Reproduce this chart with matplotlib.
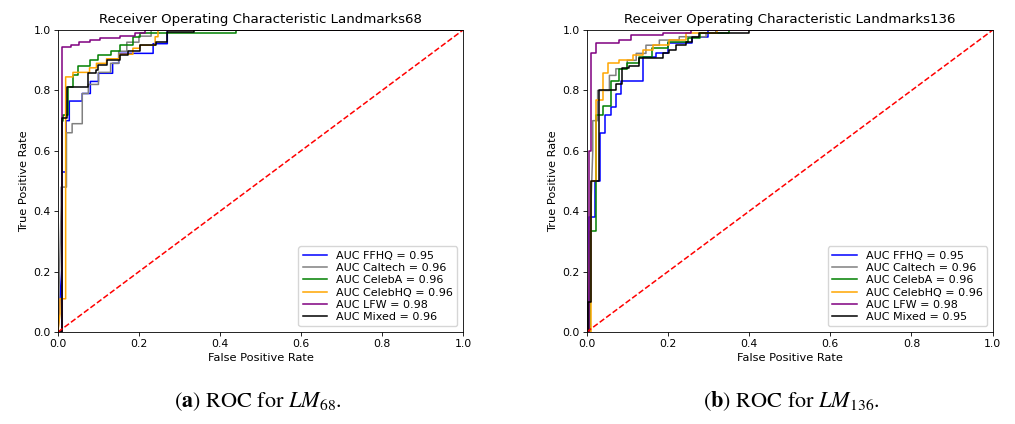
import matplotlib.pyplot as plt

# ROC curves for two landmark models, six datasets each
names  = ['FFHQ', 'Caltech', 'CelebA', 'CelebHQ', 'LFW', 'Mixed']
colors = ['blue', 'gray', 'green', 'orange', 'purple', 'black']
auc68  = [0.95, 0.96, 0.96, 0.96, 0.98, 0.96]
auc136 = [0.95, 0.96, 0.96, 0.96, 0.98, 0.95]

# --- Landmarks68 ---
ffhq68_fpr = [0, 0.01, 0.01, 0.02, 0.02, 0.028, 0.028, 0.06, 0.06, 0.08, 0.08, 0.10, 0.10, 0.135, 0.135, 0.15, 0.15, 0.235, 0.235, 0.27, 0.27, 1.0]
ffhq68_tpr = [0, 0.22, 0.53, 0.53, 0.70, 0.70, 0.765, 0.765, 0.79, 0.79, 0.83, 0.83, 0.857, 0.857, 0.89, 0.89, 0.923, 0.923, 0.955, 0.955, 1.0, 1.0]
caltech68_fpr = [0, 0.008, 0.008, 0.021, 0.021, 0.035, 0.035, 0.06, 0.06, 0.075, 0.075, 0.10, 0.10, 0.13, 0.13, 0.15, 0.15, 0.17, 0.17, 0.20, 0.20, 0.23, 0.23, 1.0]
caltech68_tpr = [0, 0.42, 0.48, 0.48, 0.66, 0.66, 0.69, 0.69, 0.79, 0.79, 0.82, 0.82, 0.86, 0.86, 0.89, 0.89, 0.93, 0.93, 0.96, 0.96, 0.98, 0.98, 1.0, 1.0]
celeba68_fpr = [0, 0.009, 0.009, 0.012, 0.012, 0.025, 0.025, 0.037, 0.037, 0.05, 0.05, 0.078, 0.078, 0.099, 0.099, 0.132, 0.132, 0.152, 0.152, 0.185, 0.185, 0.202, 0.202, 0.44, 0.44, 1.0]
celeba68_tpr = [0, 0.0, 0.70, 0.70, 0.72, 0.72, 0.81, 0.81, 0.85, 0.85, 0.88, 0.88, 0.90, 0.90, 0.918, 0.918, 0.93, 0.93, 0.95, 0.95, 0.978, 0.978, 0.99, 0.99, 1.0, 1.0]
celebhq68_fpr = [0, 0.005, 0.005, 0.019, 0.019, 0.037, 0.037, 0.078, 0.078, 0.095, 0.095, 0.12, 0.12, 0.152, 0.152, 0.185, 0.185, 0.202, 0.202, 0.24, 0.24, 0.247, 0.247, 1.0]
celebhq68_tpr = [0, 0.06, 0.11, 0.11, 0.845, 0.845, 0.86, 0.86, 0.875, 0.875, 0.89, 0.89, 0.905, 0.905, 0.92, 0.92, 0.94, 0.94, 0.95, 0.95, 0.978, 0.978, 1.0, 1.0]
lfw68_fpr = [0, 0.011, 0.011, 0.033, 0.033, 0.053, 0.053, 0.078, 0.078, 0.103, 0.103, 0.152, 0.152, 0.19, 0.19, 0.214, 0.214, 1.0]
lfw68_tpr = [0, 0.0, 0.943, 0.943, 0.95, 0.95, 0.96, 0.96, 0.967, 0.967, 0.975, 0.975, 0.98, 0.98, 0.99, 0.99, 1.0, 1.0]
mixed68_fpr = [0, 0.009, 0.009, 0.022, 0.022, 0.074, 0.074, 0.095, 0.095, 0.099, 0.099, 0.12, 0.12, 0.152, 0.152, 0.173, 0.173, 0.202, 0.202, 0.243, 0.243, 0.27, 0.27, 0.337, 0.337, 1.0]
mixed68_tpr = [0, 0.0, 0.71, 0.71, 0.813, 0.813, 0.857, 0.857, 0.868, 0.868, 0.885, 0.885, 0.90, 0.90, 0.918, 0.918, 0.93, 0.93, 0.95, 0.95, 0.96, 0.96, 0.995, 0.995, 1.0, 1.0]

# --- Landmarks136 ---
ffhq136_fpr = [0, 0.006, 0.006, 0.02, 0.02, 0.032, 0.032, 0.045, 0.045, 0.06, 0.06, 0.072, 0.072, 0.085, 0.085, 0.138, 0.138, 0.17, 0.17, 0.2, 0.2, 0.26, 0.26, 0.30, 0.30, 1.0]
ffhq136_tpr = [0, 0.0, 0.38, 0.38, 0.5, 0.5, 0.66, 0.66, 0.72, 0.72, 0.745, 0.745, 0.79, 0.79, 0.83, 0.83, 0.91, 0.91, 0.923, 0.923, 0.956, 0.956, 0.978, 0.978, 1.0, 1.0]
caltech136_fpr = [0, 0.015, 0.015, 0.027, 0.027, 0.056, 0.056, 0.072, 0.072, 0.1, 0.1, 0.122, 0.122, 0.146, 0.146, 0.179, 0.179, 0.228, 0.228, 0.294, 0.294, 0.318, 0.318, 1.0]
caltech136_tpr = [0, 0.6, 0.7, 0.7, 0.80, 0.80, 0.85, 0.85, 0.872, 0.872, 0.90, 0.90, 0.923, 0.923, 0.95, 0.95, 0.967, 0.967, 0.978, 0.978, 0.99, 0.99, 1.0, 1.0]
celeba136_fpr = [0, 0.009, 0.009, 0.023, 0.023, 0.04, 0.04, 0.06, 0.06, 0.08, 0.08, 0.1, 0.1, 0.13, 0.13, 0.16, 0.16, 0.2, 0.2, 0.25, 0.25, 0.28, 0.28, 0.35, 0.35, 1.0]
celeba136_tpr = [0, 0.0, 0.335, 0.335, 0.72, 0.72, 0.75, 0.75, 0.83, 0.83, 0.87, 0.87, 0.89, 0.89, 0.91, 0.91, 0.94, 0.94, 0.96, 0.96, 0.975, 0.975, 0.99, 0.99, 1.0, 1.0]
celebhq136_fpr = [0, 0.01, 0.01, 0.023, 0.023, 0.04, 0.04, 0.052, 0.052, 0.08, 0.08, 0.113, 0.113, 0.138, 0.138, 0.163, 0.163, 0.204, 0.204, 0.245, 0.245, 0.322, 0.322, 1.0]
celebhq136_tpr = [0, 0.0, 0.5, 0.5, 0.77, 0.77, 0.857, 0.857, 0.89, 0.89, 0.90, 0.90, 0.918, 0.918, 0.934, 0.934, 0.95, 0.95, 0.967, 0.967, 0.99, 0.99, 1.0, 1.0]
lfw136_fpr = [0, 0.005, 0.005, 0.011, 0.011, 0.023, 0.023, 0.08, 0.08, 0.11, 0.11, 0.187, 0.187, 0.257, 0.257, 1.0]
lfw136_tpr = [0, 0.0, 0.6, 0.6, 0.923, 0.923, 0.956, 0.956, 0.967, 0.967, 0.984, 0.984, 0.99, 0.99, 1.0, 1.0]
mixed136_fpr = [0, 0.003, 0.003, 0.011, 0.011, 0.031, 0.031, 0.072, 0.072, 0.088, 0.088, 0.104, 0.104, 0.129, 0.129, 0.187, 0.187, 0.203, 0.203, 0.22, 0.22, 0.244, 0.244, 0.26, 0.26, 0.277, 0.277, 0.40, 0.40, 1.0]
mixed136_tpr = [0, 0.0, 0.1, 0.1, 0.5, 0.5, 0.80, 0.80, 0.82, 0.82, 0.874, 0.874, 0.88, 0.88, 0.906, 0.906, 0.923, 0.923, 0.934, 0.934, 0.95, 0.95, 0.96, 0.96, 0.978, 0.978, 0.99, 0.99, 1.0, 1.0]

curves68 = [(ffhq68_fpr, ffhq68_tpr), (caltech68_fpr, caltech68_tpr), (celeba68_fpr, celeba68_tpr),
            (celebhq68_fpr, celebhq68_tpr), (lfw68_fpr, lfw68_tpr), (mixed68_fpr, mixed68_tpr)]
curves136 = [(ffhq136_fpr, ffhq136_tpr), (caltech136_fpr, caltech136_tpr), (celeba136_fpr, celeba136_tpr),
             (celebhq136_fpr, celebhq136_tpr), (lfw136_fpr, lfw136_tpr), (mixed136_fpr, mixed136_tpr)]

plt.rcParams['mathtext.fontset'] = 'stix'
fig = plt.figure(figsize=(10.15, 4.24), dpi=100)
ax1 = fig.add_axes([0.0571, 0.217, 0.399, 0.712])
ax2 = fig.add_axes([0.578, 0.217, 0.400, 0.712])


def roc_panel(ax, curves, aucs, title):
    for (fpr, tpr), name, c, a in zip(curves, names, colors, aucs):
        ax.plot(fpr, tpr, color=c, lw=1.1, label=f'AUC {name} = {a:.2f}')
    ax.plot([0, 1], [0, 1], 'r--', lw=1.1)
    ax.set_xlim(0, 1); ax.set_ylim(0, 1)
    ax.set_title(title, fontsize=9.6, pad=5)
    ax.set_xlabel('False Positive Rate', fontsize=8.2, labelpad=3)
    ax.set_ylabel('True Positive Rate', fontsize=8.2, labelpad=3)
    ax.tick_params(labelsize=7.8, length=2.6, width=0.6, pad=2.5)
    for s in ax.spines.values():
        s.set_linewidth(0.6)
    ax.legend(loc='lower right', fontsize=8, labelspacing=0.2, handlelength=2.2)


roc_panel(ax1, curves68, auc68, 'Receiver Operating Characteristic Landmarks68')
roc_panel(ax2, curves136, auc136, 'Receiver Operating Characteristic Landmarks136')

# subfigure captions
fig.text(0.254, 0.04, r'($\mathbf{a}$) ROC for $LM_{68}$.', ha='center', fontsize=16, family='STIXGeneral')
fig.text(0.780, 0.04, r'($\mathbf{b}$) ROC for $LM_{136}$.', ha='center', fontsize=16, family='STIXGeneral')

fig.savefig('out.png', dpi=100)
